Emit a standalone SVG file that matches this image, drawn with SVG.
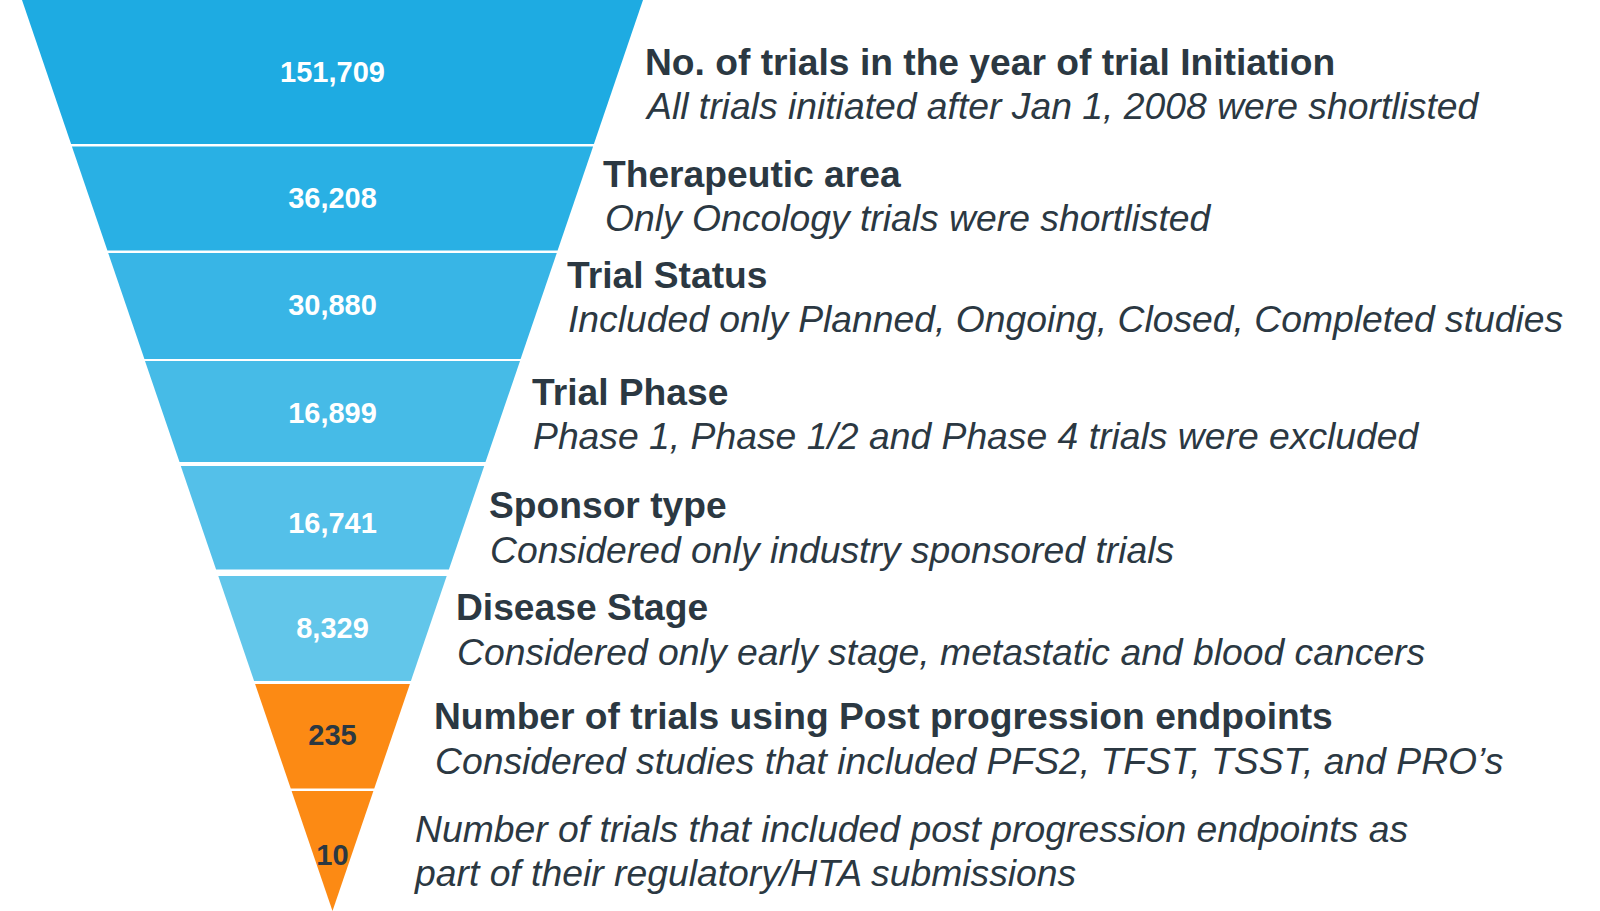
<svg xmlns="http://www.w3.org/2000/svg" width="1600" height="911" viewBox="0 0 1600 911">
<style>
.num{font-family:"Liberation Sans",Arial,sans-serif;font-weight:bold;font-size:29px;text-anchor:middle;fill:#ffffff}
.numd{fill:#2b3842}
.h{font-family:"Liberation Sans",Arial,sans-serif;font-weight:bold;font-size:37.2px;fill:#2b3842}
.s{font-family:"Liberation Sans",Arial,sans-serif;font-style:italic;font-size:37.3px;fill:#2b3842}
</style>
<rect width="1600" height="911" fill="#ffffff"/>
<g id="stage1">
<polygon points="22,0 643,0 593.9,144 71.1,144" fill="#1eabe2"/>
<text class="num" x="332.5" y="82">151,709</text>
<text class="h" x="645" y="74.5">No. of trials in the year of trial Initiation</text>
<text class="s" x="647" y="118.5">All trials initiated after Jan 1, 2008 were shortlisted</text>
</g>
<g id="stage2">
<polygon points="71.9,146.5 593.1,146.5 557.6,250.5 107.4,250.5" fill="#29b0e4"/>
<text class="num" x="332.5" y="208">36,208</text>
<text class="h" x="603" y="187">Therapeutic area</text>
<text class="s" x="605" y="231">Only Oncology trials were shortlisted</text>
</g>
<g id="stage3">
<polygon points="108.2,253 556.8,253 520.6,359 144.4,359" fill="#38b5e6"/>
<text class="num" x="332.5" y="315">30,880</text>
<text class="h" x="567" y="287.5">Trial Status</text>
<text class="s" x="568" y="332">Included only Planned, Ongoing, Closed, Completed studies</text>
</g>
<g id="stage4">
<polygon points="145,361 520,361 485.5,462 179.5,462" fill="#46bbe7"/>
<text class="num" x="332.5" y="423">16,899</text>
<text class="h" x="532" y="404.5">Trial Phase</text>
<text class="s" x="533" y="449">Phase 1, Phase 1/2 and Phase 4 trials were excluded</text>
</g>
<g id="stage5">
<polygon points="180.8,466 484.2,466 448.9,569.5 216.1,569.5" fill="#54c0e9"/>
<text class="num" x="332.5" y="533">16,741</text>
<text class="h" x="489" y="518">Sponsor type</text>
<text class="s" x="490" y="562.5">Considered only industry sponsored trials</text>
</g>
<g id="stage6">
<polygon points="218.3,576 446.7,576 410.9,681 254.1,681" fill="#62c6ea"/>
<text class="num" x="332.5" y="638">8,329</text>
<text class="h" x="456" y="619.5">Disease Stage</text>
<text class="s" x="457" y="664.5">Considered only early stage, metastatic and blood cancers</text>
</g>
<g id="stage7">
<polygon points="255.1,684 409.9,684 374.25,788.5 290.75,788.5" fill="#fc8a14"/>
<text class="num numd" x="332.5" y="745">235</text>
<text class="h" x="434" y="729">Number of trials using Post progression endpoints</text>
<text class="s" x="435" y="774">Considered studies that included PFS2, TFST, TSST, and PRO’s</text>
</g>
<g id="stage8">
<polygon points="291.6,791 373.4,791 332.5,911" fill="#fc8a14"/>
<text class="num numd" x="332.5" y="865">10</text>
<text class="s" x="415" y="841.5">Number of trials that included post progression endpoints as</text>
<text class="s" x="415" y="885.5">part of their regulatory/HTA submissions</text>
</g>
<g id="connectors"></g>
</svg>
